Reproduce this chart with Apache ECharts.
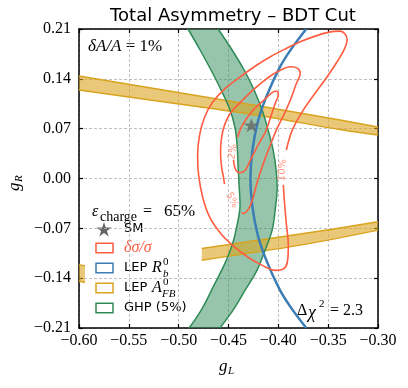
<!DOCTYPE html>
<html>
<head>
<meta charset="utf-8">
<script src="https://cdn.jsdelivr.net/npm/echarts@6/dist/echarts.min.js"></script>
<style>
  html, body { margin: 0; padding: 0; background: #fff; }
  #chart { width: 408px; height: 388px; }
</style>
</head>
<body>
<div id="chart"></div>
<script>
// axis ranges [min, max, step]
var xRange = [-0.60, -0.30, 0.05];
var yRange = [-0.21, 0.21, 0.07];

// standard model point
var smPoint = [[-0.427, 0.075]];

// delta sigma / sigma contours, open where the label sits
var contour2 = [
  [-0.445, 0.026], [-0.443, 0.013], [-0.439, 0.008], [-0.433, 0.012], [-0.428, 0.026],
  [-0.423, 0.040], [-0.418, 0.053], [-0.413, 0.065], [-0.408, 0.085], [-0.403, 0.106],
  [-0.400, 0.118], [-0.402, 0.123], [-0.407, 0.120], [-0.413, 0.112], [-0.426, 0.095],
  [-0.436, 0.075], [-0.441, 0.058]
];
var contour5 = [
  [-0.437, -0.048], [-0.435, -0.049], [-0.430, -0.043], [-0.426, -0.030], [-0.422, -0.009],
  [-0.418, 0.009], [-0.413, 0.029], [-0.408, 0.047], [-0.402, 0.068], [-0.395, 0.088],
  [-0.388, 0.110], [-0.382, 0.133], [-0.378, 0.148], [-0.381, 0.155], [-0.388, 0.157],
  [-0.398, 0.152], [-0.408, 0.144], [-0.418, 0.133], [-0.428, 0.121], [-0.438, 0.107],
  [-0.448, 0.092], [-0.454, 0.075], [-0.457, 0.057], [-0.458, 0.037], [-0.457, 0.017],
  [-0.455, 0.001], [-0.454, -0.008]
];
var contour10 = [
  [-0.395, -0.009], [-0.394, -0.030], [-0.392, -0.063], [-0.390, -0.094], [-0.391, -0.118],
  [-0.395, -0.127], [-0.403, -0.129], [-0.416, -0.122], [-0.430, -0.111], [-0.445, -0.095],
  [-0.458, -0.077], [-0.469, -0.054], [-0.476, -0.026], [-0.480, 0.005], [-0.481, 0.033],
  [-0.479, 0.061], [-0.474, 0.086], [-0.466, 0.107], [-0.453, 0.127], [-0.438, 0.143],
  [-0.423, 0.158], [-0.408, 0.171], [-0.393, 0.182], [-0.378, 0.192], [-0.363, 0.200],
  [-0.348, 0.206], [-0.338, 0.207], [-0.333, 0.203], [-0.331, 0.195], [-0.334, 0.181],
  [-0.341, 0.164], [-0.351, 0.143], [-0.363, 0.120], [-0.375, 0.096], [-0.386, 0.068],
  [-0.392, 0.040]
];
var contourLabelPos = [[-0.4454, 0.0375], [-0.4467, -0.0304], [-0.3960, 0.0118]];
var contourLabelText = ['2%', '5%', '10%'];
var contourLabelAngle = [80, -62, 85];

// LEP R_b^0
var rbCurve = [
  [-0.372, 0.21], [-0.388, 0.18], [-0.399, 0.155], [-0.412, 0.115], [-0.4205, 0.08],
  [-0.426, 0.04], [-0.428, 0.0], [-0.426, -0.04], [-0.4205, -0.08], [-0.412, -0.115],
  [-0.399, -0.155], [-0.388, -0.18], [-0.372, -0.21]
];

// LEP A_FB^0 bands
var afbUpperTop = [[-0.60, 0.1439], [-0.4886, 0.1179], [-0.4133, 0.1004], [-0.338, 0.0821], [-0.30, 0.0723]];
var afbUpperBot = [[-0.60, 0.1243], [-0.4886, 0.1025], [-0.4133, 0.0870], [-0.338, 0.0687], [-0.30, 0.0610]];
var afbLowerTop = [[-0.4768, -0.0982], [-0.3781, -0.0781], [-0.30, -0.0609]];
var afbLowerBot = [[-0.4768, -0.1147], [-0.3781, -0.0936], [-0.30, -0.0725]];
var afbCornerTop = [[-0.60, -0.121], [-0.594, -0.123]];
var afbCornerBot = [[-0.60, -0.144], [-0.594, -0.146]];

// GHP (5%) band
var ghpLeft = [
  [-0.4906, 0.21], [-0.4785, 0.1805], [-0.4665, 0.1496], [-0.4564, 0.1214], [-0.4484, 0.0961],
  [-0.4434, 0.0708], [-0.4414, 0.0470], [-0.4404, 0.0188], [-0.4394, -0.0093], [-0.4384, -0.0374],
  [-0.4414, -0.0655], [-0.4464, -0.0936], [-0.4544, -0.1217], [-0.4655, -0.1526], [-0.4745, -0.1779],
  [-0.4825, -0.1962], [-0.4896, -0.21]
];
var ghpRight = [
  [-0.4604, 0.21], [-0.4464, 0.1805], [-0.4343, 0.1524], [-0.4243, 0.1243], [-0.4163, 0.0961],
  [-0.4102, 0.0680], [-0.4052, 0.0399], [-0.4022, 0.0118], [-0.4012, -0.0121], [-0.4032, -0.0444],
  [-0.4062, -0.0725], [-0.4133, -0.1006], [-0.4213, -0.1287], [-0.4333, -0.1569], [-0.4454, -0.1850],
  [-0.4584, -0.21]
];

var RED = '#ff5c40', BLUE = '#3b7db5', GOLD = '#d9a31e', GREEN = '#2e8b57';
var GOLD_FILL = 'rgba(218,165,32,0.6)', GREEN_FILL = 'rgba(46,139,87,0.5)';
var SERIF = '"Liberation Serif", serif', SANS = '"DejaVu Sans", sans-serif';
var STAR = 'path://M0,-8L1.8,-2.47L7.61,-2.47L2.91,0.95L4.7,6.47L0,3.06L-4.7,6.47L-2.91,0.95L-7.61,-2.47L-1.8,-2.47Z';

function fmt(v) {
  if (Math.abs(v) < 1e-9) return '0.00';
  return v.toFixed(2).replace('-', '\u2212');
}

function band(top, bot, fill) {
  var pts = top.concat(bot.slice().reverse());
  return {
    type: 'custom', coordinateSystem: 'cartesian2d', clip: true, silent: true,
    data: [pts[0]],
    renderItem: function (params, api) {
      return {
        type: 'polygon',
        shape: { points: pts.map(function (p) { return api.coord(p); }) },
        style: { fill: fill }
      };
    }
  };
}

function curve(data, color, width, z) {
  return {
    type: 'line', data: data, smooth: 0.35, showSymbol: false, silent: true, z: z || 3,
    lineStyle: { color: color, width: width }
  };
}

function txt(x, y, s, font, fill) {
  return {
    type: 'text', x: x, y: y, silent: true,
    style: { text: s, font: font, fill: fill || '#000', textAlign: 'left', textVerticalAlign: 'middle', align: 'left', verticalAlign: 'middle' }
  };
}

function box(cy, color) {
  return {
    type: 'rect', silent: true,
    shape: { x: 96, y: cy - 4.75, width: 17, height: 9.5 },
    style: { fill: '#fff', stroke: color, lineWidth: 1.5 }
  };
}

var chart = echarts.init(document.getElementById('chart'));

var labelData = contourLabelPos.map(function (p, i) {
  return {
    value: p,
    label: { show: true, formatter: contourLabelText[i], rotate: contourLabelAngle[i] }
  };
});

var frameLine = { show: true, onZero: false, lineStyle: { color: '#000', width: 1.5 } };
var frameTick = { show: true, inside: true, length: 4, lineStyle: { color: '#000', width: 1.2 } };
var gridLine = { show: true, lineStyle: { color: '#b0b0b0', width: 0.8, type: [3, 2] } };

var option = {
  animation: false,
  backgroundColor: '#fff',
  title: {
    text: 'Total Asymmetry \u2013 BDT Cut',
    left: 228, top: 2, textAlign: 'center',
    textStyle: { fontFamily: SANS, fontSize: 18, fontWeight: 'normal', color: '#000' }
  },
  grid: { left: 79, right: 30, top: 29, bottom: 60 },
  xAxis: [{
    type: 'value', min: xRange[0], max: xRange[1], interval: xRange[2],
    axisLine: frameLine, axisTick: frameTick,
    axisLabel: { formatter: fmt, fontFamily: SERIF, fontSize: 16, color: '#000', margin: 5 },
    splitLine: gridLine
  }, {
    type: 'value', position: 'top', min: xRange[0], max: xRange[1], interval: xRange[2],
    axisLine: frameLine, axisTick: frameTick,
    axisLabel: { show: false }, splitLine: { show: false }
  }],
  yAxis: [{
    type: 'value', min: yRange[0], max: yRange[1], interval: yRange[2],
    axisLine: frameLine, axisTick: frameTick,
    axisLabel: { formatter: fmt, fontFamily: SERIF, fontSize: 16, color: '#000', margin: 8 },
    splitLine: gridLine
  }, {
    type: 'value', position: 'right', min: yRange[0], max: yRange[1], interval: yRange[2],
    axisLine: frameLine, axisTick: frameTick,
    axisLabel: { show: false }, splitLine: { show: false }
  }],
  series: [
    band(ghpLeft, ghpRight, GREEN_FILL),
    band(afbUpperTop, afbUpperBot, GOLD_FILL),
    band(afbLowerTop, afbLowerBot, GOLD_FILL),
    band(afbCornerTop, afbCornerBot, GOLD_FILL),
    curve(afbUpperTop, GOLD, 1.5), curve(afbUpperBot, GOLD, 1.5),
    curve(afbLowerTop, GOLD, 1.5), curve(afbLowerBot, GOLD, 1.5),
    curve(afbCornerTop, GOLD, 1.5), curve(afbCornerBot, GOLD, 1.5),
    curve(ghpLeft, GREEN, 1.5), curve(ghpRight, GREEN, 1.5),
    curve(rbCurve, BLUE, 2.5, 4),
    curve(contour2, RED, 1.6, 5), curve(contour5, RED, 1.6, 5), curve(contour10, RED, 1.6, 5),
    {
      type: 'scatter', data: labelData, symbolSize: 0, silent: true, z: 6,
      label: { position: 'inside', color: '#ff7a60', fontFamily: SANS, fontSize: 10 }
    },
    {
      type: 'scatter', data: smPoint, symbol: STAR, symbolSize: [16, 15.2], symbolKeepAspect: true,
      itemStyle: { color: '#666' }, silent: true, z: 7
    }
  ],
  graphic: [
    // axis names
    txt(219, 367, 'g', 'italic 17px ' + SERIF),
    txt(228, 371, 'L', 'italic 11px ' + SERIF),
    {
      type: 'group', x: 15, y: 186, rotation: Math.PI / 2, silent: true,
      children: [
        txt(-5, 0, 'g', 'italic 17px ' + SERIF),
        txt(4, 4, 'R', 'italic 11px ' + SERIF)
      ]
    },
    // annotations
    {
      type: 'text', x: 88, y: 47, silent: true,
      style: {
        text: '{i|\u03b4A/A} = 1%', font: '17px ' + SERIF, fill: '#000',
        textAlign: 'left', textVerticalAlign: 'middle', align: 'left', verticalAlign: 'middle',
        rich: { i: { fontStyle: 'italic', fontFamily: SERIF, fontSize: 17 } }
      }
    },
    txt(297, 311, '\u0394', '16px ' + SERIF),
    txt(308, 313, '\u03c7', 'italic 18px ' + SERIF),
    txt(319, 304, '2', '11px ' + SERIF),
    txt(330, 311, '= 2.3', '16px ' + SERIF),
    // legend
    txt(92, 212, '\u03b5', 'italic 16px ' + SERIF),
    txt(100, 217, 'charge', '14px ' + SERIF),
    txt(143, 212, '=', '16px ' + SERIF),
    txt(164, 212, '65%', '17px ' + SERIF),
    {
      type: 'polygon', x: 104, y: 230, silent: true,
      shape: { points: [[0, -8], [1.8, -2.47], [7.61, -2.47], [2.91, 0.95], [4.7, 6.47], [0, 3.06], [-4.7, 6.47], [-2.91, 0.95], [-7.61, -2.47], [-1.8, -2.47]] },
      style: { fill: '#666' }
    },
    txt(124, 229, 'SM', '13px ' + SANS),
    box(248, RED),
    txt(124, 248, '\u03b4\u03c3/\u03c3', 'italic 16px ' + SERIF, RED),
    box(268, BLUE),
    txt(124, 268, 'LEP', '13px ' + SANS),
    txt(152, 268, 'R', 'italic 16px ' + SERIF),
    txt(163, 262, '0', '11px ' + SERIF),
    txt(163, 274, 'b', 'italic 11px ' + SERIF),
    box(288, GOLD),
    txt(124, 288, 'LEP', '13px ' + SANS),
    txt(152, 288, 'A', 'italic 16px ' + SERIF),
    txt(163, 282, '0', '11px ' + SERIF),
    txt(162, 294, 'FB', 'italic 11px ' + SERIF),
    box(308, GREEN),
    txt(124, 308, 'GHP (5%)', '13px ' + SANS)
  ]
};

chart.setOption(option);
</script>
</body>
</html>
